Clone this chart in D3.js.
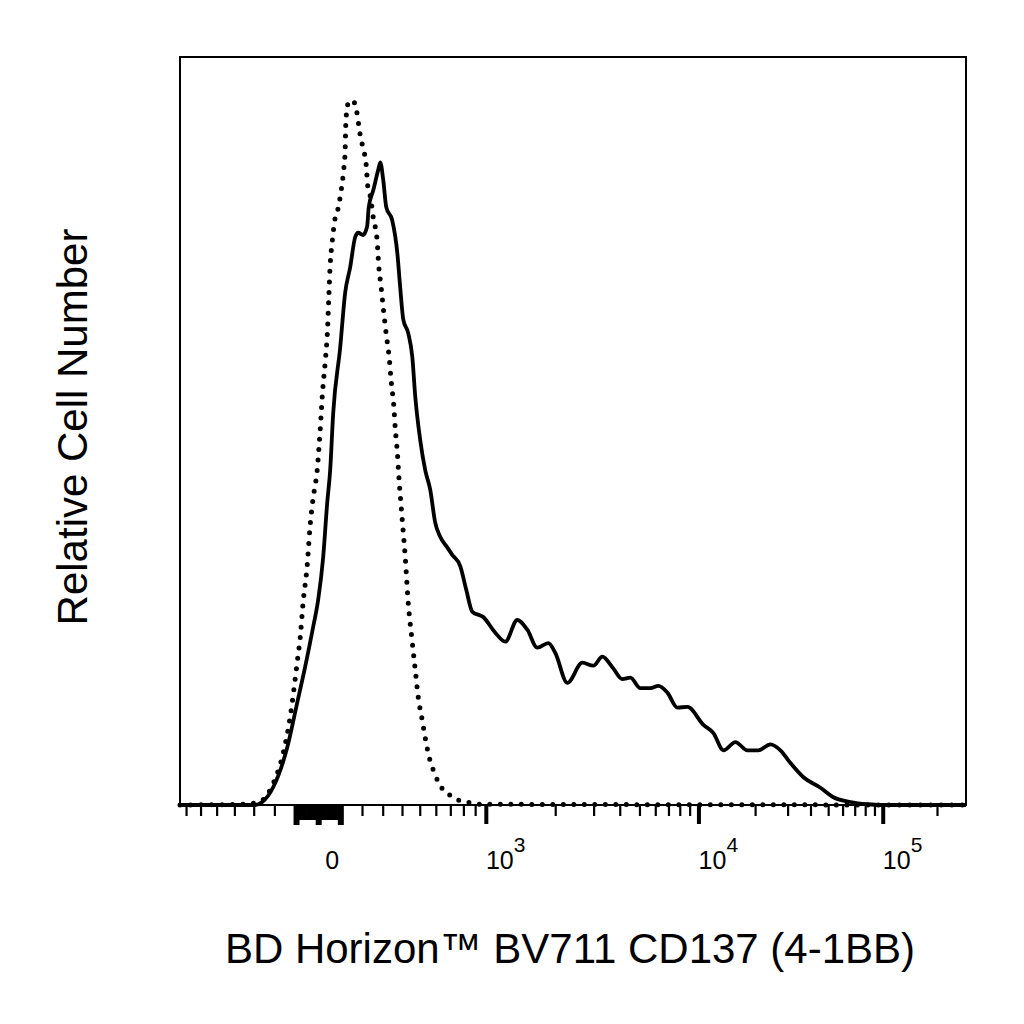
<!DOCTYPE html>
<html lang="en">
<head>
<meta charset="utf-8">
<title>BV711 CD137 (4-1BB) histogram</title>
<script src="https://d3js.org/d3.v7.min.js"></script>
<style>
  body { margin: 0; background: #fff; }
  text { font-family: "Liberation Sans", Arial, Helvetica, sans-serif; fill: #000; }
</style>
</head>
<body>
<svg width="1024" height="1024"></svg>
<script>
// fluorescence intensity (x) and relative count in % of axis height (y)
const isotypeX = [-745, -354, -293, -254, -205, -159, -127, -95, -81, -68, -50, -36, -22.5, -4.5, 9, 20.3, 31.5, 41.9, 47.3, 54,
  63.1, 76.7, 90.3, 103.9, 115.3, 122, 124.4, 131.3, 140.4, 158.9, 175.1, 191.3, 205, 219.9, 226.6, 239.1, 254, 273, 280.3, 292.8,
  305.2, 318, 333, 343.3, 356.2, 364.1, 375, 382.5, 401.2, 417.6, 434, 453.7, 474, 491.2, 515, 551.7, 596, 649.9, 699.6, 751.8,
  857.3, 946.8, 290000];
const isotypeY = [0, 0.1, 0.3, 0.7, 2.9, 6.9, 11.7, 19.0, 22.4, 27.0, 31.8, 37.4, 41.0, 44.7, 50.1, 55.4, 59.1, 63.4, 67.4, 72.1,
  75.2, 78.4, 79.7, 82.1, 84.8, 87.4, 90.5, 93.1, 94.0, 94.0, 92.6, 89.5, 87.7, 85.4, 82.8, 81.3, 78.4, 75.2, 72.1, 69.0,
  65.8, 62.8, 59.7, 56.5, 53.4, 50.3, 47.1, 44.1, 38.1, 33.1, 27.0, 22.4, 18.0, 14.4, 11.3, 6.9, 4.0, 2.0, 1.3, 0.7,
  0.3, 0.1, 0];

const stainedX = [-745, -293, -258, -205, -140, -95, -59, -22.5, 0, 22.5, 40.5, 54, 67.6, 99.4, 122, 145, 168, 182, 205, 224,
  232, 254, 278, 288, 303, 318, 348, 375, 390, 407, 434, 457, 474, 503, 533, 564, 596, 629, 678, 714,
  775, 824, 875, 975, 1098, 1211, 1364, 1507, 1666, 1863, 2002, 2268, 2658, 2992, 3300, 3685, 4120, 4509, 5053, 5670,
  6222, 6913, 7780, 8762, 10618, 11988, 13542, 15688, 18190, 20840, 24204, 27425, 31094, 36605, 45374, 52803, 66346, 82381, 97208, 290000];
const stainedY = [0, 0, 0.4, 2.4, 7.7, 13.6, 18.4, 23.8, 27.4, 33.1, 40.3, 44.7, 52.3, 61.1, 68.4, 71.8, 75.8, 76.4, 76.1, 77.2,
  79.8, 82.1, 84.8, 85.8, 83.4, 79.8, 78.1, 73.7, 69.2, 64.8, 63.0, 59.8, 54.5, 48.7, 44.7, 42.1, 37.7, 35.8, 34.4, 33.4,
  31.9, 28.7, 25.8, 25.1, 23.0, 21.8, 24.7, 23.4, 21.0, 21.6, 20.3, 16.3, 19.0, 18.6, 19.8, 18.4, 16.8, 17.0, 15.6, 15.6,
  15.9, 15.0, 13.0, 13.1, 10.7, 9.6, 7.3, 8.4, 7.3, 7.3, 8.1, 7.3, 5.6, 3.7, 2.3, 1.1, 0.4, 0.1, 0, 0];

const xDomain = [-745, 290000];
const yDomain = [0, 100];

// axis ticks
const majorTicks = [0, 1000, 10000, 100000];
const labelBase = ["0", "10", "10", "10"];
const labelExp = ["", "3", "4", "5"];
const minorTicks = [-700, -600, -500, -400, -300, -200, 200, 300, 400, 500, 600, 700, 800, 900,
  2000, 3000, 4000, 5000, 6000, 7000, 8000, 9000,
  20000, 30000, 40000, 50000, 60000, 70000, 80000, 90000, 200000];
const linTicks = d3.range(-90, 100, 10).filter(d => d !== 0);
const linMajor = [-100, 0, 100];

const xTitle = "BD Horizon\u2122 BV711 CD137 (4-1BB)";
const yTitle = "Relative Cell Number";

// biexponential (logicle-like) display transform
const bxC = 70, bxP = 4;
function bxS(u) {
  return bxC * (Math.exp(u) - bxP * bxP * Math.exp(-u / bxP) + bxP * bxP - 1);
}
function biex(v) {
  const a = Math.abs(v);
  let lo = 0, hi = 20;
  for (let i = 0; i < 60; i++) {
    const m = (lo + hi) / 2;
    if (bxS(m) < a) lo = m; else hi = m;
  }
  return Math.sign(v) * (lo + hi) / 2;
}

const plotLeft = 180, plotRight = 966, plotTop = 57, plotBottom = 805;
const svg = d3.select("svg");

const xu = d3.scaleLinear().domain(xDomain.map(biex)).range([plotLeft, plotRight]);
const x = v => xu(biex(v));
const y = d3.scaleLinear().domain(yDomain).range([plotBottom, 56]);

// frame
svg.append("rect")
  .attr("x", plotLeft).attr("y", plotTop)
  .attr("width", plotRight - plotLeft).attr("height", plotBottom - plotTop)
  .attr("fill", "none").attr("stroke", "#000").attr("stroke-width", 2);

const line = d3.line()
  .x(d => x(d[0]))
  .y(d => y(d[1]))
  .curve(d3.curveMonotoneX);

svg.append("path")
  .datum(isotypeX.map((v, i) => [v, isotypeY[i]]))
  .attr("d", line)
  .attr("fill", "none")
  .attr("stroke", "#000")
  .attr("stroke-width", 5)
  .attr("stroke-linecap", "round")
  .attr("stroke-dasharray", "0 10.5");

svg.append("path")
  .datum(stainedX.map((v, i) => [v, stainedY[i]]))
  .attr("d", line)
  .attr("fill", "none")
  .attr("stroke", "#000")
  .attr("stroke-width", 3.8)
  .attr("stroke-linejoin", "round");

function tickAxis(values, size, width) {
  const g = svg.append("g")
    .attr("transform", `translate(0,${plotBottom})`)
    .call(d3.axisBottom(xu).tickValues(values.map(biex)).tickSize(size).tickFormat(""));
  g.select(".domain").remove();
  g.selectAll("line").attr("stroke-width", width);
}
tickAxis(minorTicks, 11, 2.2);
tickAxis(linTicks, 15, 3);
tickAxis(linMajor, 20, 6);
tickAxis(majorTicks.slice(1), 19, 4);

svg.selectAll(".tick-base")
  .data(majorTicks)
  .join("text")
  .attr("class", "tick-base")
  .attr("x", d => x(d) + 14)
  .attr("y", 869)
  .attr("text-anchor", "middle")
  .attr("font-size", 25)
  .text((d, i) => labelBase[i]);

svg.selectAll(".tick-exp")
  .data(majorTicks)
  .join("text")
  .attr("class", "tick-exp")
  .attr("x", d => x(d) + 28)
  .attr("y", 852)
  .attr("font-size", 21)
  .text((d, i) => labelExp[i]);

svg.append("text")
  .attr("x", 570).attr("y", 963)
  .attr("text-anchor", "middle")
  .attr("font-size", 42)
  .text(xTitle);

svg.append("text")
  .attr("transform", "translate(87,427) rotate(-90)")
  .attr("text-anchor", "middle")
  .attr("font-size", 42)
  .text(yTitle);
</script>
</body>
</html>
